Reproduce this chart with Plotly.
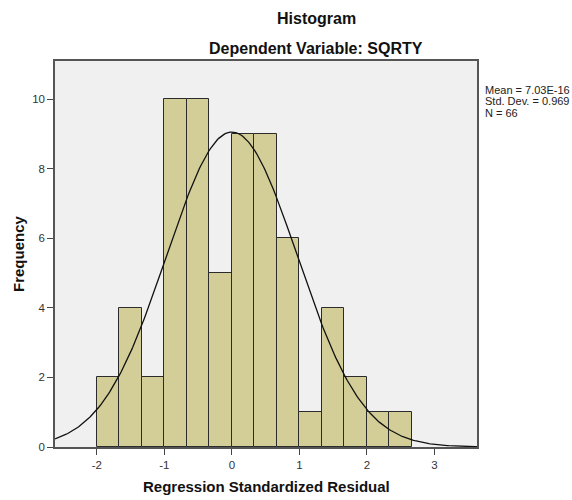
import numpy as np
import plotly.graph_objects as go

# Data
bin_start = -2.0
bin_width = 1.0 / 3.0
counts = [2, 4, 2, 10, 10, 5, 9, 9, 6, 1, 4, 2, 1, 1]
mean_val = 7.03e-16
sd_val = 0.969
n_val = 66
x_ticks = [-2, -1, 0, 1, 2, 3]
y_ticks = [0, 2, 4, 6, 8, 10]
stats_lines = ["Mean = 7.03E-16", "Std. Dev. = 0.969", "N = 66"]

centers = [bin_start + bin_width * (i + 0.5) for i in range(len(counts))]

# Normal curve overlay from the reported statistics
xs = np.linspace(-2.62, 3.63, 300)
ys = n_val * bin_width / (sd_val * np.sqrt(2 * np.pi)) * np.exp(-0.5 * ((xs - mean_val) / sd_val) ** 2)

W, H = 572, 500
ML, MR, MT, MB = 55, 95, 61, 53
pw = W - ML - MR
ph = H - MT - MB


def px2paper(px, py):
    return (px - ML) / pw, 1 - (py - MT) / ph


fig = go.Figure()
fig.add_trace(go.Bar(
    x=centers, y=counts, width=bin_width,
    marker=dict(color="#D3CE98", line=dict(color="#2b2b2b", width=1)),
    hoverinfo="x+y", showlegend=False,
))
fig.add_trace(go.Scatter(
    x=xs, y=ys, mode="lines",
    line=dict(color="#111111", width=1.3),
    hoverinfo="skip", showlegend=False,
))

specs = [
    ("<b>Histogram</b>", 316, 18, dict(font=dict(size=16, color="#111111"))),
    ("<b>Dependent Variable: SQRTY</b>", 316, 48, dict(font=dict(size=16, color="#111111"))),
    ("<b>Frequency</b>", 18, 254, dict(font=dict(size=15, color="#111111"), textangle=-90)),
    ("<b>Regression Standardized Residual</b>", 266, 487, dict(font=dict(size=15, color="#111111"))),
]
for i, line in enumerate(stats_lines):
    specs.append((line, 484, 89.5 + 11.7 * i,
                  dict(xanchor="left", font=dict(size=11, color="#222222"))))

annots = []
for text, px, py, opts in specs:
    ax, ay = px2paper(px, py)
    a = dict(text=text, x=ax, y=ay, xref="paper", yref="paper", showarrow=False,
             xanchor="center", yanchor="middle", borderpad=0)
    a.update(opts)
    annots.append(a)

fig.update_layout(
    width=W, height=H,
    margin=dict(l=ML, r=MR, t=MT, b=MB, autoexpand=False),
    paper_bgcolor="white",
    plot_bgcolor="#F0F0F0",
    font=dict(family="Liberation Sans, Arial, sans-serif", color="#222222"),
    bargap=0,
    xaxis=dict(
        range=[-2.62, 3.63], tickvals=x_ticks, ticktext=[str(v) for v in x_ticks],
        ticks="outside", ticklen=6, tickcolor="#444444", tickwidth=1,
        showgrid=False, zeroline=False, automargin=False,
        showline=True, linecolor="#555555", linewidth=1.5, mirror=True,
        tickfont=dict(size=11.5, color="#333333"),
    ),
    yaxis=dict(
        range=[0, 11.1], tickvals=y_ticks, ticktext=[str(v) for v in y_ticks],
        ticks="outside", ticklen=6, tickcolor="#444444", tickwidth=1,
        showgrid=False, zeroline=False, automargin=False,
        showline=True, linecolor="#555555", linewidth=1.5, mirror=True,
        tickfont=dict(size=11.5, color="#333333"),
    ),
    annotations=annots,
)

fig.write_html("out.html", config={"displayModeBar": False},
               post_script="document.body.style.margin='0';document.body.style.overflow='hidden';")
